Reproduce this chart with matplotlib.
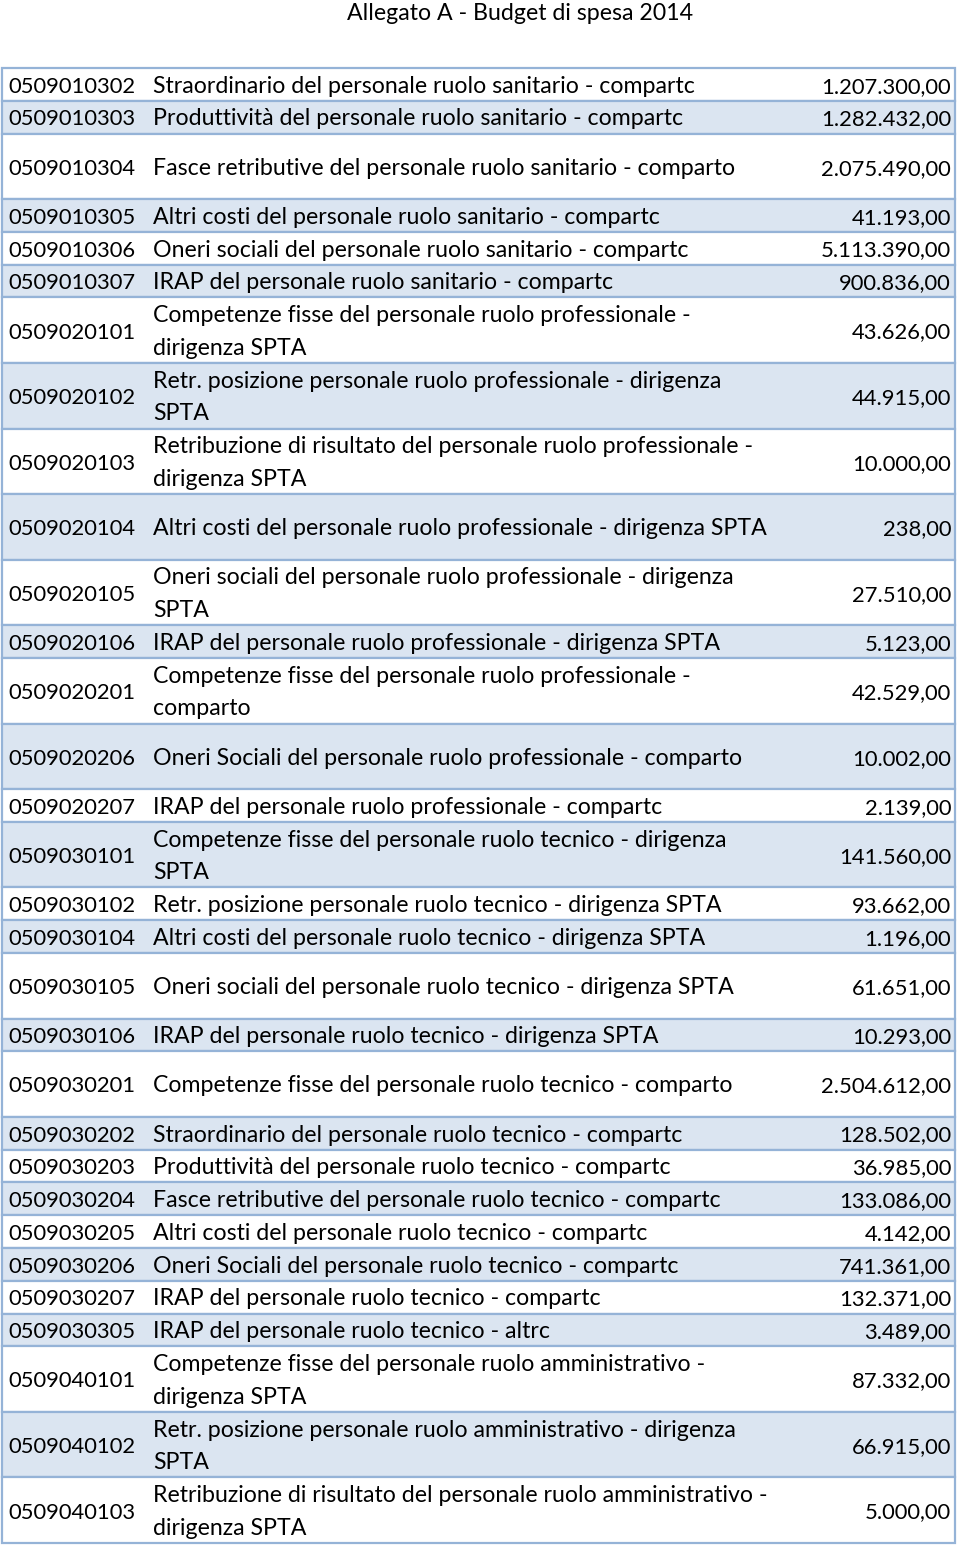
import matplotlib.pyplot as plt
from matplotlib.patches import Rectangle

# table data
codes = ['0509010302', '0509010303', '0509010304', '0509010305', '0509010306',
         '0509010307', '0509020101', '0509020102', '0509020103', '0509020104',
         '0509020105', '0509020106', '0509020201', '0509020206', '0509020207',
         '0509030101', '0509030102', '0509030104', '0509030105', '0509030106',
         '0509030201', '0509030202', '0509030203', '0509030204', '0509030205',
         '0509030206', '0509030207', '0509030305', '0509040101', '0509040102',
         '0509040103']
descr = [
    'Straordinario del personale ruolo sanitario - compartc',
    'Produttività del personale ruolo sanitario - compartc',
    'Fasce retributive del personale ruolo sanitario - comparto',
    'Altri costi del personale ruolo sanitario - compartc',
    'Oneri sociali del personale ruolo sanitario - compartc',
    'IRAP del personale ruolo sanitario - compartc',
    'Competenze fisse del personale ruolo professionale -\ndirigenza SPTA',
    'Retr. posizione personale ruolo professionale - dirigenza\nSPTA',
    'Retribuzione di risultato del personale ruolo professionale -\ndirigenza SPTA',
    'Altri costi del personale ruolo professionale - dirigenza SPTA',
    'Oneri sociali del personale ruolo professionale - dirigenza\nSPTA',
    'IRAP del personale ruolo professionale - dirigenza SPTA',
    'Competenze fisse del personale ruolo professionale -\ncomparto',
    'Oneri Sociali del personale ruolo professionale - comparto',
    'IRAP del personale ruolo professionale - compartc',
    'Competenze fisse del personale ruolo tecnico - dirigenza\nSPTA',
    'Retr. posizione personale ruolo tecnico - dirigenza SPTA',
    'Altri costi del personale ruolo tecnico - dirigenza SPTA',
    'Oneri sociali del personale ruolo tecnico - dirigenza SPTA',
    'IRAP del personale ruolo tecnico - dirigenza SPTA',
    'Competenze fisse del personale ruolo tecnico - comparto',
    'Straordinario del personale ruolo tecnico - compartc',
    'Produttività del personale ruolo tecnico - compartc',
    'Fasce retributive del personale ruolo tecnico - compartc',
    'Altri costi del personale ruolo tecnico - compartc',
    'Oneri Sociali del personale ruolo tecnico - compartc',
    'IRAP del personale ruolo tecnico - compartc',
    'IRAP del personale ruolo tecnico - altrc',
    'Competenze fisse del personale ruolo amministrativo -\ndirigenza SPTA',
    'Retr. posizione personale ruolo amministrativo - dirigenza\nSPTA',
    'Retribuzione di risultato del personale ruolo amministrativo -\ndirigenza SPTA',
]
values = [1207300, 1282432, 2075490, 41193, 5113390, 900836, 43626, 44915,
          10000, 238, 27510, 5123, 42529, 10002, 2139, 141560, 93662, 1196,
          61651, 10293, 2504612, 128502, 36985, 133086, 4142, 741361, 132371,
          3489, 87332, 66915, 5000]

# row heights in line units (layout)
row_units = [1, 1, 2, 1, 1, 1, 2, 2, 2, 2, 2, 1, 2, 2, 1, 2, 1, 1, 2, 1, 2,
             1, 1, 1, 1, 1, 1, 1, 2, 2, 2]


def fmt(v):
    s = '{:,.2f}'.format(v)
    return s.replace(',', 'X').replace('.', ',').replace('X', '.')


W, H = 960, 1546
fig = plt.figure(figsize=(W / 100, H / 100), dpi=100)
ax = fig.add_axes([0, 0, 1, 1])
ax.set_xlim(0, W)
ax.set_ylim(H, 0)
ax.axis('off')

plt.rcParams['font.family'] = ['Lato', 'DejaVu Sans']
fs = 16.7
fs_num = 15.8
blue = '#dbe5f1'
edge = '#95b3d7'
off = 8.3  # baseline below row centre

top = 68
unit = (1543 - top) / sum(row_units)
x0, x1 = 2, 955

ax.text(520, 20, 'Allegato A - Budget di spesa 2014', ha='center',
        va='baseline', fontsize=fs, color='black')

y = top
for i, (c, d, v, u) in enumerate(zip(codes, descr, values, row_units)):
    h = u * unit
    ax.add_patch(Rectangle((x0, y), x1 - x0, h,
                           facecolor=blue if i % 2 else 'white',
                           edgecolor=edge, lw=1.6))
    mid = y + h / 2
    ax.text(8, mid + off, c, ha='left', va='baseline', fontsize=fs_num)
    ax.text(951, mid + off, fmt(v), ha='right', va='baseline', fontsize=fs_num)
    lines = d.split('\n')
    if len(lines) == 1:
        ax.text(153, mid + off, d, ha='left', va='baseline', fontsize=fs)
    else:
        for k, ln in enumerate(lines):
            ax.text(153, y + (k + 0.5) * unit + off, ln, ha='left',
                    va='baseline', fontsize=fs)
    y += h

fig.savefig('out.png', dpi=100, facecolor='white')
